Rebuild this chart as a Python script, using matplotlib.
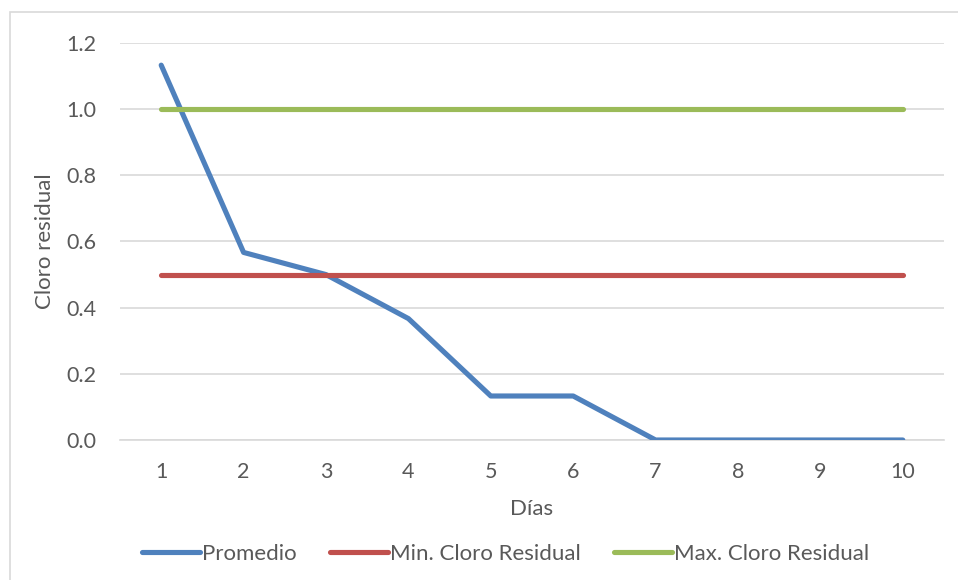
import matplotlib.pyplot as plt
from matplotlib.patches import Rectangle

# Cloro residual medido por día
dias = [1, 2, 3, 4, 5, 6, 7, 8, 9, 10]
promedio = [1.133, 0.567, 0.5, 0.367, 0.133, 0.133, 0.0, 0.0, 0.0, 0.0]
min_cloro = [0.5] * 10
max_cloro = [1.0] * 10
yticks = [0.0, 0.2, 0.4, 0.6, 0.8, 1.0, 1.2]

plt.rcParams['font.family'] = ['Lato', 'DejaVu Sans']
gris = '#595959'

fig = plt.figure(figsize=(9.58, 5.8), dpi=100)
ax = fig.add_axes([120 / 958, 1 - 440 / 580, (944 - 120) / 958, (440 - 43) / 580])

# marco del gráfico
fig.patches.append(Rectangle((10 / 958, -0.1), 1.2, 1 - 12 / 580 + 0.1,
                             transform=fig.transFigure, fill=False,
                             edgecolor='#d9d9d9', linewidth=1.2))

lw = 3.7
ax.plot(dias, promedio, color='#4F81BD', lw=lw, solid_capstyle='round', label='Promedio', zorder=3)
ax.plot(dias, min_cloro, color='#C0504D', lw=lw, solid_capstyle='round', label='Min. Cloro Residual', zorder=3)
ax.plot(dias, max_cloro, color='#9BBB59', lw=lw, solid_capstyle='round', label='Max. Cloro Residual', zorder=3)

ax.set_xlim(0.5, 10.5)
ax.set_ylim(0, 1.2)
ax.set_xticks(dias)
ax.set_yticks(yticks)
ax.set_yticklabels([f'{v:.1f}' for v in yticks])
ax.grid(axis='y', color='#d9d9d9', lw=1.2)
ax.set_axisbelow(True)
for s in ['top', 'right', 'left']:
    ax.spines[s].set_visible(False)
ax.spines['bottom'].set_color('#d9d9d9')
ax.spines['bottom'].set_linewidth(1.2)
ax.tick_params(length=0, labelsize=15.5, labelcolor=gris)
ax.tick_params(axis='x', pad=16)
ax.tick_params(axis='y', pad=17)

ax.set_xlabel('Días', fontsize=16, color=gris, labelpad=12)
ax.set_ylabel('Cloro residual', fontsize=16, color=gris, labelpad=8)

ax.legend(loc='upper center', bbox_to_anchor=(0.468, -0.212), ncol=3, frameon=False,
          fontsize=16, labelcolor=gris, handlelength=2.6, handletextpad=0.1, columnspacing=1.5)

fig.savefig('out.png', dpi=100)
